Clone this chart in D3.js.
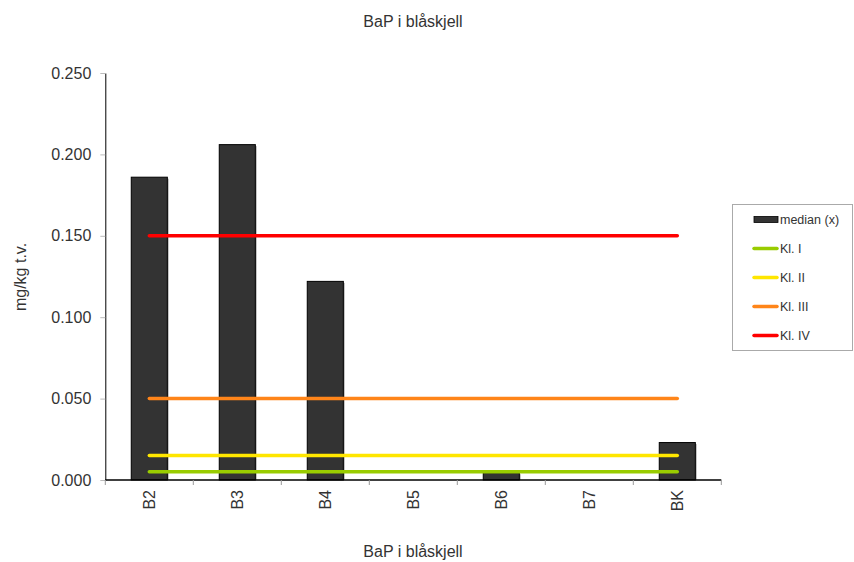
<!DOCTYPE html>
<html><head><meta charset="utf-8">
<script src="https://cdn.jsdelivr.net/npm/d3@7"></script>
<style>body{margin:0;background:#fff;} text{font-family:"Liberation Sans",Arial,sans-serif;fill:#333;}</style>
</head><body>
<svg id="c" width="854" height="562"></svg>
<script>
const categories = ["B2","B3","B4","B5","B6","B7","BK"];
const medianValues = [0.186, 0.206, 0.122, null, 0.0045, null, 0.023];
const classNames = ["Kl. I","Kl. II","Kl. III","Kl. IV"];
const classValues = [0.005, 0.015, 0.05, 0.15];
const classColors = ["#99cc00","#ffe600","#ff8519","#ff0000"];
const yTicks = [0, 0.05, 0.10, 0.15, 0.20, 0.25];
const title = "BaP i blåskjell";
const yTitle = "mg/kg t.v.";
const seriesName = "median (x)";

(function(){
const svg = d3.select("#c");
const pLeft = 105.3, pRight = 721.3, pTop = 73, pBottom = 480;
const x = d3.scaleBand().domain(categories).range([pLeft, pRight]).paddingInner(0.59).paddingOuter(0.295);
const y = d3.scaleLinear().domain([0, 0.25]).range([pBottom, pTop]);

// titles
svg.append("text").attr("x", 413).attr("y", 27).attr("text-anchor","middle").style("font-size","16px").text(title);
svg.append("text").attr("x", 413).attr("y", 557).attr("text-anchor","middle").style("font-size","16px").text(title);
svg.append("text").attr("transform","translate(26,277) rotate(-90)").attr("text-anchor","middle").style("font-size","16px").text(yTitle);

// bars
const data = categories.map((c,i)=>({c, v: medianValues[i]})).filter(d=>d.v!=null);
svg.append("g").selectAll("rect").data(data).join("rect")
  .attr("x", d=>x(d.c)+1.5).attr("y", d=>y(d.v)+1.5)
  .attr("width", x.bandwidth()).attr("height", d=>Math.max(0,pBottom-y(d.v)-1.5))
  .attr("fill","#bbb");
svg.append("g").selectAll("rect").data(data).join("rect")
  .attr("x", d=>x(d.c)).attr("y", d=>y(d.v))
  .attr("width", x.bandwidth()).attr("height", d=>pBottom-y(d.v))
  .attr("fill","#333333").attr("stroke","#000").attr("stroke-width",1);

// class lines
const x0 = x(categories[0]) + x.bandwidth()/2;
const x1 = x(categories[categories.length-1]) + x.bandwidth()/2;
classValues.forEach((v,i)=>{
  svg.append("line").attr("x1",x0).attr("x2",x1).attr("y1",y(v)).attr("y2",y(v))
    .attr("stroke",classColors[i]).attr("stroke-width",3.5).attr("stroke-linecap","round");
});

// y axis
const yAxis = d3.axisLeft(y).tickValues(yTicks).tickFormat(d3.format(".3f")).tickSize(5).tickSizeOuter(0);
const gy = svg.append("g").attr("transform",`translate(${pLeft},0)`).call(yAxis);
gy.select(".domain").attr("stroke","#000");
gy.selectAll(".tick line").attr("stroke","#bbb");
gy.selectAll(".tick text").attr("x",-14).style("font-size","16px").style("font-family",'"Liberation Sans",Arial,sans-serif').attr("fill","#333");

// x axis
const xTickPos = d3.range(categories.length+1).map(i=>pLeft + i*x.step());
const gx = svg.append("g");
gx.append("line").attr("x1",pLeft).attr("x2",pRight).attr("y1",pBottom).attr("y2",pBottom).attr("stroke","#000").attr("stroke-width",1.5);
gx.selectAll("line.t").data(xTickPos).join("line").attr("class","t").attr("x1",d=>d).attr("x2",d=>d).attr("y1",pBottom).attr("y2",pBottom+5).attr("stroke","#999");
gx.selectAll("text").data(categories).join("text")
  .attr("transform", d=>`translate(${x(d)+x.bandwidth()/2+6},490) rotate(-90)`)
  .attr("text-anchor","end").style("font-size","16px").text(d=>d);

// legend
const lg = svg.append("g");
lg.append("rect").attr("x",732.5).attr("y",204.5).attr("width",120).attr("height",146).attr("fill","#fff").attr("stroke","#aaa");
const ly = [219.5, 248.5, 277.5, 306.5, 335.5];
lg.append("rect").attr("x",754).attr("y",ly[0]-3).attr("width",24).attr("height",6).attr("fill","#333").attr("stroke","#000").attr("stroke-width",0.8);
lg.append("text").attr("x",780).attr("y",ly[0]+4.5).style("font-size","12.5px").text(seriesName);
classNames.forEach((n,i)=>{
  lg.append("line").attr("x1",754).attr("x2",777).attr("y1",ly[i+1]).attr("y2",ly[i+1]).attr("stroke",classColors[i]).attr("stroke-width",3.5).attr("stroke-linecap","round");
  lg.append("text").attr("x",780).attr("y",ly[i+1]+4.5).style("font-size","12.5px").text(n);
});
})();
</script>
</body></html>
